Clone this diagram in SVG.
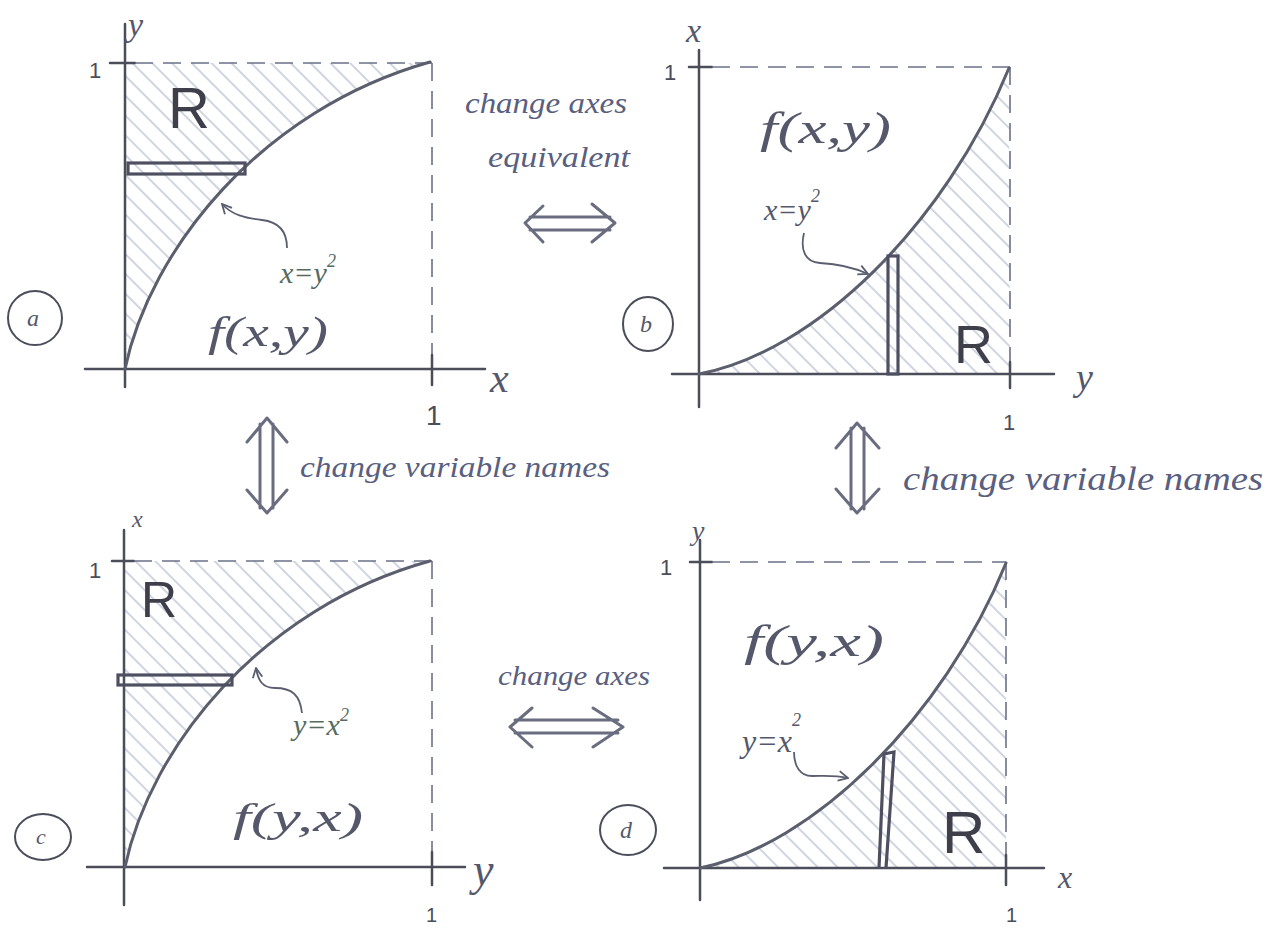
<svg xmlns="http://www.w3.org/2000/svg" width="1266" height="928" viewBox="0 0 1266 928">
<style>
.axis{stroke:#4b4d5a;stroke-width:2.5;fill:none;stroke-linecap:round}
.dash{stroke:#6a7088;stroke-width:1.6;fill:none;stroke-dasharray:18 10}
.curve{stroke:#5b5e6c;stroke-width:3;fill:none;stroke-linecap:round}
.strip{stroke:#4e5062;stroke-width:3.2;fill:none}
.hatch{fill:url(#hp);stroke:none}
.ann{stroke:#5b5e70;stroke-width:1.8;fill:none;marker-end:url(#ah)}
.dbl{stroke:#6a6d80;stroke-width:3;fill:none;stroke-linecap:round;stroke-linejoin:round}
.lbl{font-family:"Liberation Serif","DejaVu Serif",serif;font-style:italic;fill:#55586a}
.eq{font-family:"Liberation Serif","DejaVu Serif",serif;font-style:italic;fill:#566a60}
.big{font-family:"Liberation Sans","DejaVu Sans",sans-serif;fill:#3e3f4a}
.one{font-family:"Liberation Sans","DejaVu Sans",sans-serif;fill:#4b4d5a}
.note{font-family:"Liberation Serif","DejaVu Serif",serif;font-style:italic;fill:#5a5f80}
.circ{stroke:#4b4d5a;stroke-width:2;fill:none}
</style>
<defs>
<pattern id="hp" patternUnits="userSpaceOnUse" width="14" height="14" patternTransform="rotate(45)">
<line x1="0" y1="7" x2="14" y2="7" stroke="#aab2c9" stroke-width="1.1"/>
</pattern>
<marker id="ah" viewBox="0 0 10 10" refX="9" refY="5" markerWidth="12" markerHeight="12" orient="auto" markerUnits="userSpaceOnUse">
<path d="M1,1 L9,5 L1,9" fill="none" stroke="#5b5e70" stroke-width="1.5"/>
</marker>
</defs>
<rect width="1266" height="928" fill="#ffffff"/>

<g id="panel-a">
<path class="hatch" d="M125,369 C150,250 260,110 430,62 L430,63 L125,63 Z"/>
<line class="axis" x1="125" y1="24" x2="125" y2="387"/>
<line class="axis" x1="85" y1="369" x2="485" y2="369"/>
<line class="axis" x1="110" y1="63" x2="135" y2="63"/>
<line class="dash" x1="135" y1="63" x2="432" y2="63"/>
<line class="dash" x1="432" y1="63" x2="432" y2="355"/>
<line class="axis" x1="432" y1="355" x2="432" y2="385"/>
<path class="curve" d="M125,369 C150,250 260,110 430,62"/>
<rect class="strip" x="128" y="163" width="117" height="11"/>
<path class="ann" d="M287,248 C287,232 280,222 262,220 C245,218 232,215 222,204"/>
<text class="lbl" x="128" y="36" font-size="34">y</text>
<text class="one" x="89" y="78" font-size="22">1</text>
<text class="lbl" x="490" y="392" font-size="42">x</text>
<text class="one" x="426" y="425" font-size="28">1</text>
<text class="big" x="168" y="128" font-size="58">R</text>
<text class="eq" x="280" y="283" font-size="30">x=y<tspan dy="-16" font-size="18">2</tspan></text>
<text class="lbl" x="208" y="346" font-size="42" textLength="120" lengthAdjust="spacingAndGlyphs">f(x,y)</text>
<ellipse class="circ" cx="35" cy="318" rx="27" ry="27"/>
<text class="lbl" x="27" y="326" font-size="24">a</text>
</g>

<g id="panel-b">
<path class="hatch" d="M699,374 C815,352 945,225 1009,68 L1010,374 Z"/>
<line class="axis" x1="699" y1="50" x2="699" y2="407"/>
<line class="axis" x1="672" y1="374" x2="1054" y2="374"/>
<line class="axis" x1="689" y1="67" x2="712" y2="67"/>
<line class="dash" x1="712" y1="67" x2="1010" y2="67"/>
<line class="dash" x1="1010" y1="67" x2="1010" y2="362"/>
<line class="axis" x1="1010" y1="362" x2="1010" y2="388"/>
<path class="curve" d="M699,374 C815,352 945,225 1009,68"/>
<rect class="strip" x="888" y="256" width="10" height="118"/>
<path class="ann" d="M804,233 C800,250 805,262 820,263 C840,264 855,268 868,274"/>
<text class="lbl" x="686" y="42" font-size="34">x</text>
<text class="one" x="664" y="80" font-size="22">1</text>
<text class="lbl" x="1076" y="390" font-size="38">y</text>
<text class="one" x="1003" y="430" font-size="22">1</text>
<text class="lbl" x="760" y="143" font-size="44" textLength="131" lengthAdjust="spacingAndGlyphs">f(x,y)</text>
<text class="lbl" x="764" y="220" font-size="30">x=y<tspan dy="-18" font-size="18">2</tspan></text>
<text class="big" x="954" y="363" font-size="54">R</text>
<ellipse class="circ" cx="648" cy="324" rx="25" ry="27"/>
<text class="lbl" x="640" y="332" font-size="24">b</text>
</g>

<g id="panel-c">
<path class="hatch" d="M125,867 C150,748 260,608 430,561 L430,561 L125,561 Z"/>
<line class="axis" x1="124" y1="530" x2="124" y2="905"/>
<line class="axis" x1="87" y1="867" x2="465" y2="867"/>
<line class="axis" x1="112" y1="561" x2="134" y2="561"/>
<line class="dash" x1="134" y1="561" x2="432" y2="561"/>
<line class="dash" x1="432" y1="561" x2="432" y2="852"/>
<line class="axis" x1="432" y1="852" x2="432" y2="885"/>
<path class="curve" d="M125,867 C150,748 260,608 430,561"/>
<rect class="strip" x="118" y="675" width="114" height="10"/>
<path class="ann" d="M302,713 C300,695 292,688 275,688 C262,688 258,680 256,668"/>
<text class="lbl" x="132" y="527" font-size="24">x</text>
<text class="one" x="89" y="578" font-size="22">1</text>
<text class="lbl" x="473" y="885" font-size="46">y</text>
<text class="one" x="426" y="922" font-size="20">1</text>
<text class="big" x="141" y="617" font-size="50">R</text>
<text class="eq" x="293" y="735" font-size="30">y=x<tspan dy="-14" font-size="18">2</tspan></text>
<text class="lbl" x="233" y="831" font-size="40" textLength="130" lengthAdjust="spacingAndGlyphs">f(y,x)</text>
<ellipse class="circ" cx="43" cy="837" rx="28" ry="23"/>
<text class="lbl" x="36" y="844" font-size="22">c</text>
</g>

<g id="panel-d">
<path class="hatch" d="M700,868 C813,845 943,718 1006,563 L1006,868 Z"/>
<line class="axis" x1="700" y1="540" x2="700" y2="900"/>
<line class="axis" x1="664" y1="868" x2="1044" y2="868"/>
<line class="axis" x1="690" y1="562" x2="712" y2="562"/>
<line class="dash" x1="712" y1="562" x2="1006" y2="562"/>
<line class="dash" x1="1006" y1="562" x2="1006" y2="855"/>
<line class="axis" x1="1006" y1="855" x2="1006" y2="885"/>
<path class="curve" d="M700,868 C813,845 943,718 1006,563"/>
<path class="strip" d="M879,868 L884,754 L894,752 L886,868"/>
<path class="ann" d="M794,752 C794,766 800,776 812,776 C825,776 835,775 848,778"/>
<text class="lbl" x="692" y="540" font-size="28">y</text>
<text class="one" x="660" y="575" font-size="22">1</text>
<text class="lbl" x="1058" y="888" font-size="32">x</text>
<text class="one" x="1006" y="922" font-size="20">1</text>
<text class="lbl" x="744" y="656" font-size="44" textLength="140" lengthAdjust="spacingAndGlyphs">f(y,x)</text>
<text class="lbl" x="742" y="752" font-size="32">y=x<tspan dy="-26" font-size="18">2</tspan></text>
<text class="big" x="942" y="853" font-size="60">R</text>
<ellipse class="circ" cx="628" cy="830" rx="28" ry="25"/>
<text class="lbl" x="620" y="838" font-size="24">d</text>
</g>

<g id="connectors">
<g id="link-ab">
<path class="dbl" d="M530,217 L610,217 M530,230 L610,230 M543,206 L525,223 L543,242 M592,204 L615,223 L592,242"/>
<text class="note" x="465" y="113" font-size="30" textLength="162" lengthAdjust="spacingAndGlyphs">change axes</text>
<text class="note" x="488" y="167" font-size="30" textLength="142" lengthAdjust="spacingAndGlyphs">equivalent</text>
</g>
<g id="link-cd">
<path class="dbl" d="M515,720 L618,720 M515,733 L618,733 M532,708 L510,727 L532,747 M593,708 L623,727 L593,747"/>
<text class="note" x="498" y="685" font-size="28" textLength="152" lengthAdjust="spacingAndGlyphs">change axes</text>
</g>
<g id="link-ac">
<path class="dbl" d="M260,424 L260,508 M273,424 L273,508 M247,442 L267,418 L287,442 M247,490 L267,513 L287,490"/>
<text class="note" x="300" y="477" font-size="30" textLength="310" lengthAdjust="spacingAndGlyphs">change variable names</text>
</g>
<g id="link-bd">
<path class="dbl" d="M851,428 L851,509 M864,428 L864,509 M836,448 L857,423 L879,448 M836,489 L857,513 L879,489"/>
<text class="note" x="903" y="490" font-size="34" textLength="360" lengthAdjust="spacingAndGlyphs">change variable names</text>
</g>
</g>
</svg>
